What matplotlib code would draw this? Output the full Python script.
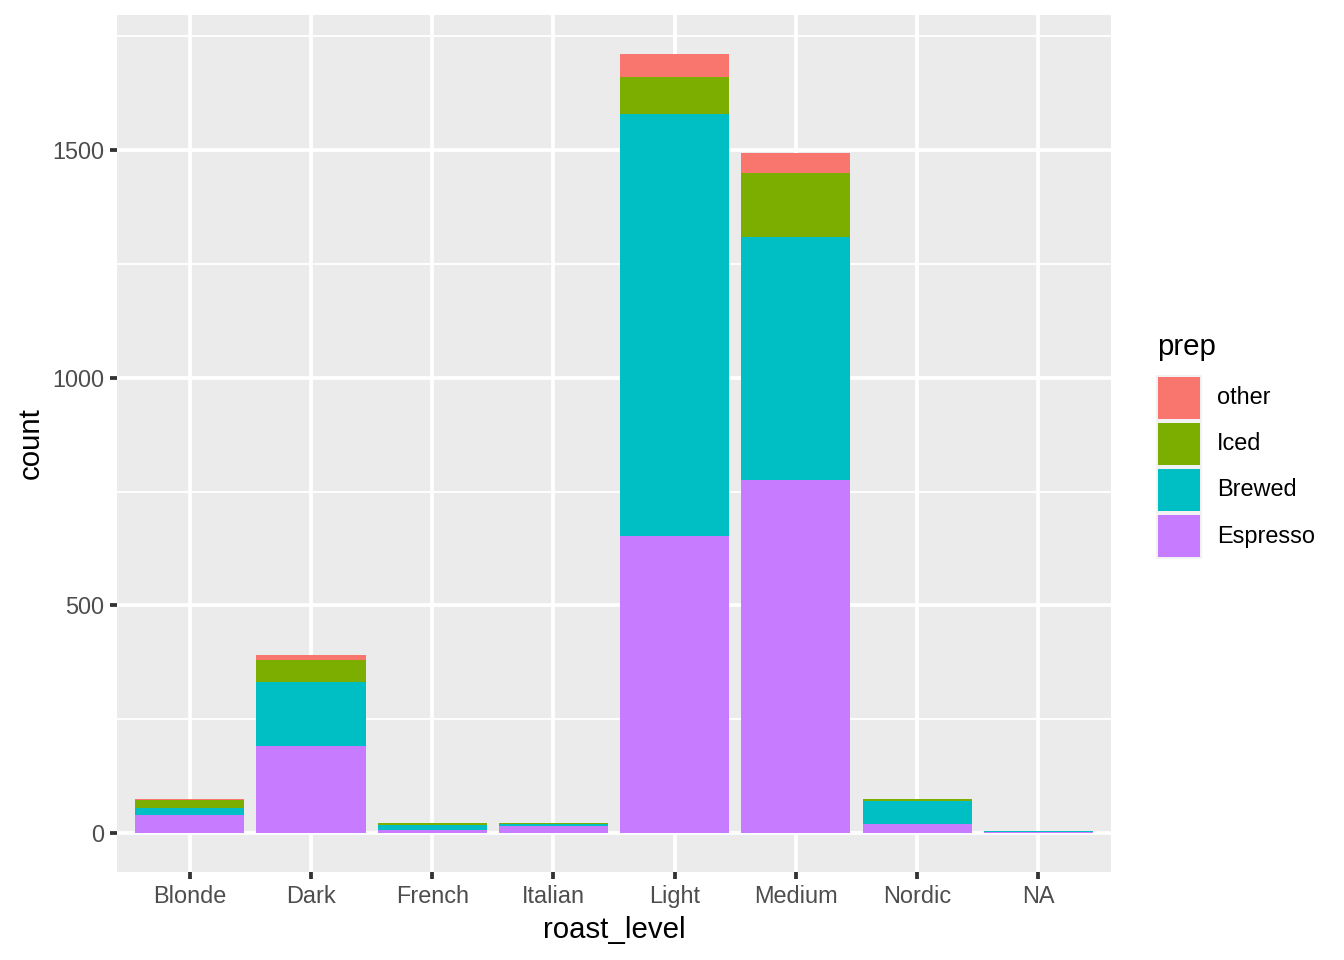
import numpy as np
import matplotlib
matplotlib.use("Agg")
import matplotlib.pyplot as plt
from matplotlib.patches import Rectangle

# ---- data ----
roast_levels = ["Blonde", "Dark", "French", "Italian", "Light", "Medium", "Nordic", "NA"]
prep_levels  = ["other", "Iced", "Brewed", "Espresso"]          # legend order (top of stack first)
prep_colors  = ["#F8766D", "#7CAE00", "#00BFC4", "#C77CFF"]

espresso = [39, 192, 6, 15, 652, 775, 20, 2]
brewed   = [16, 140, 11, 4, 928, 533, 50, 2]
iced     = [17, 49, 4, 2, 80, 141, 4, 0]
other    = [2, 9, 0, 0, 51, 45, 0, 0]

counts = {"Espresso": espresso, "Brewed": brewed, "Iced": iced, "other": other}

# ggplot-ish theme, scaled for a 192-dpi look rendered at 100 dpi
S = 1.92
BG = "#EBEBEB"
GREY30 = "#4D4D4D"
GREY20 = "#333333"
plt.rcParams["font.family"] = ["Liberation Sans", "DejaVu Sans"]

fig = plt.figure(figsize=(13.44, 9.6), dpi=100)
ax = fig.add_axes([117 / 1344, 1 - 872 / 960, (1111 - 117) / 1344, (872 - 15) / 960])
ax.set_facecolor(BG)
for s in ax.spines.values():
    s.set_visible(False)

x = np.arange(1, len(roast_levels) + 1)
bottom = np.zeros(len(roast_levels))
for name in ["Espresso", "Brewed", "Iced", "other"]:
    vals = np.array(counts[name], dtype=float)
    col = prep_colors[prep_levels.index(name)]
    ax.bar(x, vals, width=0.9, bottom=bottom, color=col, linewidth=0, zorder=3)
    bottom += vals

ymax = bottom.max()
ax.set_ylim(-0.05 * ymax, ymax * 1.05)
ax.set_xlim(0.4, len(roast_levels) + 0.6)

ax.set_yticks([0, 500, 1000, 1500])
ax.set_yticks([250, 750, 1250, 1750], minor=True)
ax.set_xticks(x)
ax.set_xticklabels(roast_levels)

ax.grid(True, which="major", color="white", linewidth=1.42 * S, zorder=1)
ax.grid(True, which="minor", axis="y", color="white", linewidth=0.71 * S, zorder=1)
ax.set_axisbelow(True)

ax.tick_params(which="major", length=2.75 * S, width=1.42 * S, color=GREY20,
               labelsize=8.8 * S, labelcolor=GREY30, pad=2.2 * S)
ax.tick_params(which="minor", length=0)

ax.set_xlabel("roast_level", fontsize=11 * S, color="black", labelpad=2.75 * S)
ax.set_ylabel("count", fontsize=11 * S, color="black", labelpad=2.75 * S)

# ---- legend drawn by hand to mimic ggplot's guide ----
W, H = 1344.0, 960.0
fig.text(1157 / W, 1 - 347 / H, "prep", fontsize=11 * S, color="black",
         ha="left", va="center")
key_top = 375
key_h = 46
for i, (lab, col) in enumerate(zip(prep_levels, prep_colors)):
    y0 = key_top + i * key_h
    fig.patches.append(Rectangle((1156 / W, 1 - (y0 + key_h) / H), 46 / W, key_h / H,
                                 transform=fig.transFigure, facecolor="#F2F2F2",
                                 edgecolor="none"))
    fig.patches.append(Rectangle((1158 / W, 1 - (y0 + key_h - 2) / H), 42 / W, (key_h - 4) / H,
                                 transform=fig.transFigure, facecolor=col,
                                 edgecolor="none"))
    fig.text(1217 / W, 1 - (y0 + key_h / 2) / H, lab, fontsize=8.8 * S,
             color="black", ha="left", va="center")

fig.savefig("out.png", dpi=100, facecolor="white")
